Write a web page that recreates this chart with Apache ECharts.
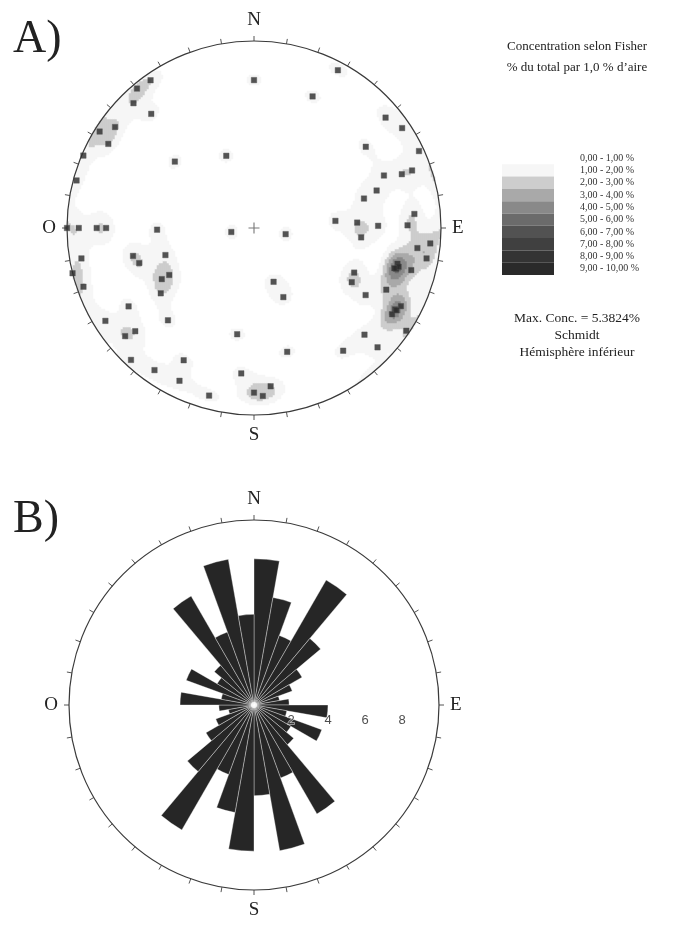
<!DOCTYPE html>
<html>
<head>
<meta charset="utf-8">
<script src="https://cdn.jsdelivr.net/npm/echarts@6/dist/echarts.min.js"></script>
<style>
  html, body { margin: 0; padding: 0; background: #ffffff; }
  #chart { width: 684px; height: 926px; }
</style>
</head>
<body>
<div id="chart"></div>
<script>
// ---- Data -----------------------------------------------------------------
// Poles to discontinuities (lower hemisphere): trend and plunge in degrees.
// The last three are overlapping poles inside the eastern cluster.
const poleTrend = [
  325, 0, 320, 316, 318, 306, 302, 300, 339, 310, 293, 285, 270, 270, 270, 270, 269, 260,
  28, 24, 50, 56, 54, 65, 68, 70, 70, 73, 75, 85, 85, 87, 89, 89, 95, 101,
  95, 97, 100, 104, 106, 105, 114, 160, 119, 115, 121, 157, 118, 120, 122, 124, 134, 134, 144, 165, 174, 180, 177,
  260, 257, 253, 253, 256, 241, 241, 251, 235, 238, 238, 223, 230, 229, 189, 223, 208, 215, 185, 206, 195,
  105, 106, 120
];
const polePlunge = [
  4, 22, 3, 8, 19, 9, 3, 11, 56, 44, 1, 2, 0, 7, 17, 22, 47, 80,
  5, 24, 9, 5, 27, 3, 26, 17, 11, 32, 39, 15, 54, 44, 19, 34, 42, 76,
  6, 13, 7, 22, 22, 14, 41, 65, 40, 23, 31, 57, 12, 14, 14, 2, 19, 9, 20, 32, 16, 13, 11,
  7, 34, 49, 36, 0, 47, 43, 4, 39, 22, 7, 33, 11, 17, 42, 4, 21, 8, 23, 10, 8,
  21, 23, 13
];

// Fisher concentration classes (% of total per 1 % area)
const densityClassMin = [0, 1, 2, 3, 4, 5, 6, 7, 8, 9];
const densityClassMax = [1, 2, 3, 4, 5, 6, 7, 8, 9, 10];
const densityClassLabels = [
  '0,00 - 1,00 %', '1,00 - 2,00 %', '2,00 - 3,00 %', '3,00 - 4,00 %', '4,00 - 5,00 %',
  '5,00 - 6,00 %', '6,00 - 7,00 %', '7,00 - 8,00 %', '8,00 - 9,00 %', '9,00 - 10,00 %'
];
const maxConcentration = '5.3824';

// Rose diagram: strike frequency (%) per 10° class from 0° to 180° (axial data)
const roseClasses = ['0-10', '10-20', '20-30', '30-40', '40-50', '50-60', '60-70', '70-80', '80-90',
  '90-100', '100-110', '110-120', '120-130', '130-140', '140-150', '150-160', '160-170', '170-180'];
const roseValues = [7.9, 5.9, 4.0, 7.8, 4.7, 3.0, 2.2, 1.4, 1.9, 4.0, 1.8, 3.9, 2.3, 2.8, 6.8, 4.2, 8.0, 4.9];
const roseScaleTicks = [2, 4, 6, 8];

const compassLabels = { 0: 'N', 90: 'E', 180: 'S', 270: 'O' };

// ---- Styling ----------------------------------------------------------------
const SERIF = '"Liberation Serif", "DejaVu Serif", serif';
const SANS = '"Liberation Sans", Arial, sans-serif';
const densityPalette = ['#ffffff', '#f6f6f6', '#cdcdcd', '#a9a9a9', '#898989', '#6b6b6b',
  '#525252', '#404040', '#343434', '#2a2a2a'];
const fisherK = 150;        // kernel concentration for the density grid
const gridCells = 187;      // density grid resolution across the net

// ---- Derived values -----------------------------------------------------------
const D2R = Math.PI / 180;

// Schmidt (equal-area) radius, 1 at the primitive circle
function schmidtRadius(plunge) {
  return Math.SQRT2 * Math.sin((90 - plunge) / 2 * D2R);
}

const poleData = poleTrend.map((t, i) => [schmidtRadius(polePlunge[i]), t]);

// Unit vectors (east, north, down) of the poles
const poleVectors = poleTrend.map((t, i) => {
  const tr = t * D2R, pl = polePlunge[i] * D2R;
  return [Math.cos(pl) * Math.sin(tr), Math.cos(pl) * Math.cos(tr), Math.sin(pl)];
});

// Fisher density (% of total per 1 % area) on a square grid over the net
const cellIndex = [];
for (let i = 0; i < gridCells; i++) cellIndex.push(i);
const densityData = [];
for (let i = 0; i < gridCells; i++) {
  for (let j = 0; j < gridCells; j++) {
    const X = -1 + (i + 0.5) * 2 / gridCells;
    const Y = -1 + (j + 0.5) * 2 / gridCells;
    const r = Math.hypot(X, Y);
    if (r > 1) continue;
    const th = 2 * Math.asin(r / Math.SQRT2);
    const s = r > 0 ? Math.sin(th) / r : 0;
    const v = [X * s, Y * s, Math.cos(th)];
    let d = 0;
    for (const p of poleVectors) {
      const c = Math.abs(v[0] * p[0] + v[1] * p[1] + v[2] * p[2]);
      d += Math.exp(fisherK * (c - 1));
    }
    d = d * 100 / poleVectors.length;
    if (d >= 1) densityData.push([i, j, d]);
  }
}

const rosePetals = roseValues.concat(roseValues);
const rosePetalNames = roseClasses.concat(roseClasses.map(c => c.split('-').map(a => +a + 180).join('-')));

const pieces = densityClassLabels.map((label, k) => ({
  min: densityClassMin[k], max: densityClassMax[k], label: label, color: densityPalette[k]
}));

// ---- Chart --------------------------------------------------------------------
const chart = echarts.init(document.getElementById('chart'), null, { renderer: 'canvas' });

function compassAngleAxis(polarIndex) {
  return {
    polarIndex: polarIndex,
    type: 'value', min: 0, max: 360, interval: 10,
    startAngle: 90, clockwise: true, z: 4,
    axisLine: { show: true, lineStyle: { color: '#3a3a3a', width: 1.2 } },
    axisTick: { show: true, length: 5, lineStyle: { color: '#555', width: 1 } },
    axisLabel: {
      show: true, margin: 11,
      formatter: v => compassLabels[v] || '',
      fontFamily: SERIF, fontSize: 19, color: '#222'
    },
    splitLine: { show: false }
  };
}

const option = {
  animation: false,
  backgroundColor: '#ffffff',
  title: [
    { text: 'A)', left: 8, top: 12, textStyle: { fontFamily: SERIF, fontSize: 46, fontWeight: 'normal', color: '#222' } },
    { text: 'B)', left: 8, top: 492, textStyle: { fontFamily: SERIF, fontSize: 46, fontWeight: 'normal', color: '#222' } },
    {
      text: 'Concentration selon Fisher\n% du total par 1,0 % d\u2019aire',
      left: 572, top: 31, textAlign: 'center',
      textStyle: { fontFamily: SERIF, fontSize: 13, lineHeight: 21, fontWeight: 'normal', color: '#222' }
    },
    {
      text: 'Max. Conc. = ' + maxConcentration + '%\nSchmidt\nH\u00e9misph\u00e8re inf\u00e9rieur',
      left: 572, top: 305, textAlign: 'center',
      textStyle: { fontFamily: SERIF, fontSize: 13.5, lineHeight: 17, fontWeight: 'normal', color: '#222' }
    }
  ],
  grid: { left: 67, top: 41, width: 374, height: 374, show: false },
  xAxis: { type: 'category', data: cellIndex, show: false },
  yAxis: { type: 'category', data: cellIndex, show: false },
  polar: [
    { center: [254, 228], radius: 187 },
    { center: [254, 705], radius: 185 },
    { center: [254, 705], radius: 185 }
  ],
  angleAxis: [
    compassAngleAxis(0),
    {
      polarIndex: 1, type: 'category', data: rosePetalNames, boundaryGap: true,
      startAngle: 90, clockwise: true,
      axisLine: { show: false }, axisTick: { show: false }, axisLabel: { show: false }, splitLine: { show: false }
    },
    compassAngleAxis(2)
  ],
  radiusAxis: [
    { polarIndex: 0, type: 'value', min: 0, max: 1, show: false, splitLine: { show: false } },
    { polarIndex: 1, type: 'value', min: 0, max: 10, show: false, splitLine: { show: false } },
    { polarIndex: 2, type: 'value', min: 0, max: 10, show: false, splitLine: { show: false } }
  ],
  visualMap: {
    type: 'piecewise', seriesIndex: 0, pieces: pieces,
    orient: 'vertical', inverse: true, align: 'left', left: 487, top: 137,
    itemWidth: 52, itemHeight: 12.3, itemGap: 0, itemSymbol: 'rect',
    textGap: 26, selectedMode: false, hoverLink: false,
    textStyle: { fontFamily: SERIF, fontSize: 10, color: '#333' }
  },
  series: [
    {
      type: 'heatmap', xAxisIndex: 0, yAxisIndex: 0, data: densityData,
      progressive: 0, silent: true, z: 0, emphasis: { disabled: true }
    },
    {
      type: 'scatter', coordinateSystem: 'polar', polarIndex: 0, data: poleData,
      symbol: 'rect', symbolSize: 5.5, z: 6, silent: true,
      itemStyle: { color: '#2a2a2a', borderColor: '#555', borderWidth: 0.5 }
    },
    {
      type: 'scatter', coordinateSystem: 'polar', polarIndex: 0, data: [[0, 0]],
      symbol: 'path://M4.5,0h1v4.5h4.5v1h-4.5v4.5h-1v-4.5h-4.5v-1h4.5z', symbolSize: 11, z: 6, silent: true,
      itemStyle: { color: '#555' }
    },
    {
      type: 'bar', coordinateSystem: 'polar', polarIndex: 1, data: rosePetals,
      barCategoryGap: '0%', z: 3, silent: true,
      itemStyle: { color: '#262626', borderColor: 'rgba(255,255,255,0.7)', borderWidth: 0.5 }
    },
    {
      type: 'scatter', coordinateSystem: 'polar', polarIndex: 2, data: [[0, 0]],
      symbol: 'circle', symbolSize: 6, z: 5, silent: true,
      itemStyle: { color: '#ffffff', shadowBlur: 8, shadowColor: '#ffffff' }
    },
    {
      type: 'scatter', coordinateSystem: 'polar', polarIndex: 2,
      data: roseScaleTicks.map(v => [v, 90]),
      symbolSize: 0, z: 7, silent: true,
      label: {
        show: true, position: 'bottom', distance: 9,
        formatter: p => String(p.value[0]),
        fontFamily: SANS, fontSize: 13, color: '#222',
        textBorderColor: 'rgba(255,255,255,0.8)', textBorderWidth: 1.5
      }
    }
  ]
};

chart.setOption(option);
</script>
</body>
</html>
